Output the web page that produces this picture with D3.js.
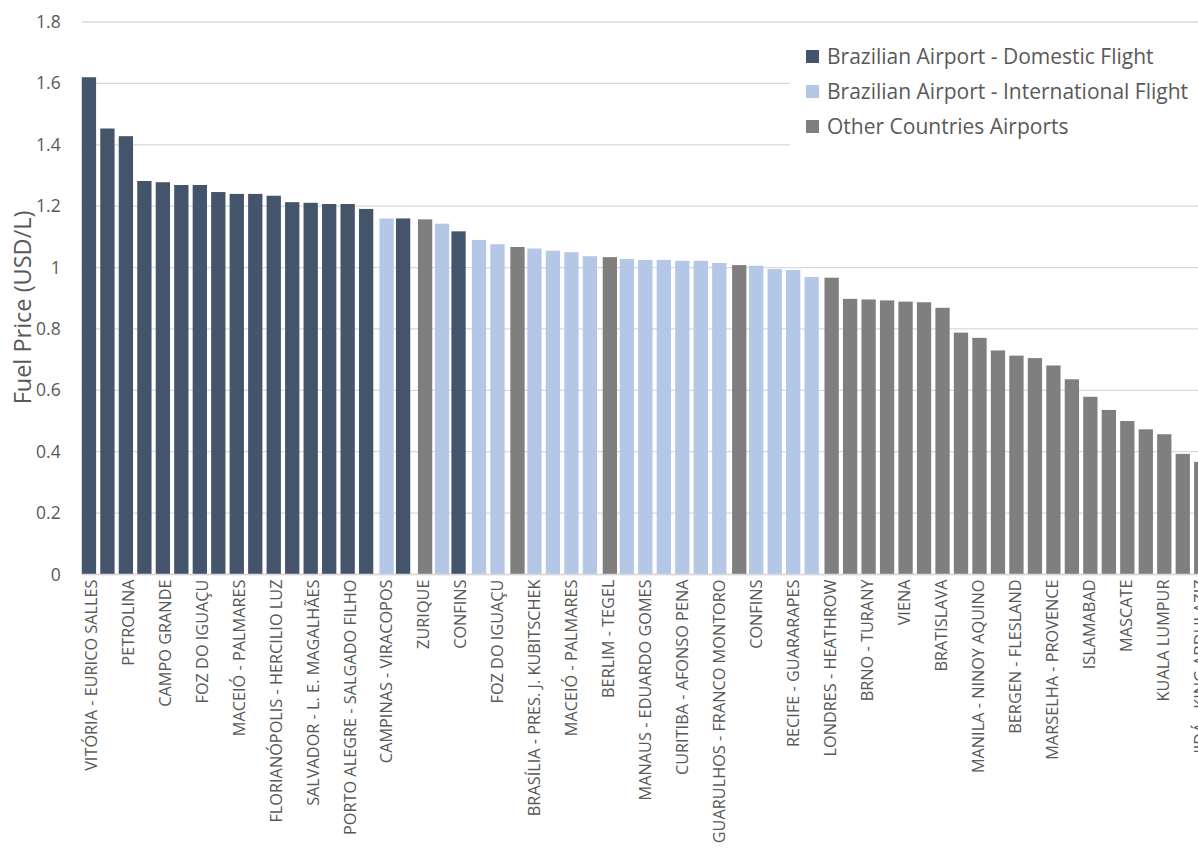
<!DOCTYPE html>
<html>
<head>
<meta charset="utf-8">
<script src="https://cdn.jsdelivr.net/npm/d3@7"></script>
<style>
    html, body { margin: 0; padding: 0; background: #fff; }
    text { font-family: "Open Sans", sans-serif; fill: #595959; }
</style>
</head>
<body>
<svg id="chart"></svg>
<script>
// only every other airport is labelled on the axis; the rest are left blank
const airports = [
    "VITÓRIA - EURICO SALLES", "", "PETROLINA", "", "CAMPO GRANDE", "", "FOZ DO IGUAÇU", "",
    "MACEIÓ - PALMARES", "", "FLORIANÓPOLIS - HERCILIO LUZ", "", "SALVADOR - L. E. MAGALHÃES", "",
    "PORTO ALEGRE - SALGADO FILHO", "", "CAMPINAS - VIRACOPOS", "", "ZURIQUE", "", "CONFINS", "",
    "FOZ DO IGUAÇU", "", "BRASÍLIA - PRES. J. KUBITSCHEK", "", "MACEIÓ - PALMARES", "",
    "BERLIM - TEGEL", "", "MANAUS - EDUARDO GOMES", "", "CURITIBA - AFONSO PENA", "",
    "GUARULHOS - FRANCO MONTORO", "", "CONFINS", "", "RECIFE - GUARARAPES", "",
    "LONDRES - HEATHROW", "", "BRNO - TURANY", "", "VIENA", "", "BRATISLAVA", "",
    "MANILA - NINOY AQUINO", "", "BERGEN - FLESLAND", "", "MARSELHA - PROVENCE", "",
    "ISLAMABAD", "", "MASCATE", "", "KUALA LUMPUR", "", "JIDÁ - KING ABDULAZIZ"
];

const prices = [
    1.620, 1.453, 1.428, 1.282, 1.278, 1.269, 1.269, 1.246, 1.240, 1.240,
    1.234, 1.213, 1.211, 1.207, 1.207, 1.191, 1.160, 1.160, 1.157, 1.143,
    1.118, 1.090, 1.076, 1.067, 1.062, 1.055, 1.050, 1.037, 1.034, 1.028,
    1.025, 1.025, 1.022, 1.022, 1.015, 1.008, 1.006, 0.995, 0.992, 0.969,
    0.967, 0.898, 0.896, 0.893, 0.889, 0.887, 0.869, 0.788, 0.771, 0.730,
    0.713, 0.705, 0.681, 0.636, 0.579, 0.536, 0.500, 0.473, 0.457, 0.393,
    0.367
];

// 0 = domestic, 1 = international, 2 = other countries
const groups = [
    0, 0, 0, 0, 0, 0, 0, 0, 0, 0, 0, 0, 0, 0, 0, 0, 1, 0, 2, 1,
    0, 1, 1, 2, 1, 1, 1, 1, 2, 1, 1, 1, 1, 1, 1, 2, 1, 1, 1, 1,
    2, 2, 2, 2, 2, 2, 2, 2, 2, 2, 2, 2, 2, 2, 2, 2, 2, 2, 2, 2,
    2
];

const seriesNames = [
    "Brazilian Airport - Domestic Flight",
    "Brazilian Airport - International Flight",
    "Other Countries Airports"
];
const seriesColours = ["#44546A", "#B4C7E7", "#7F7F7F"];

const yTicks = [0, 0.2, 0.4, 0.6, 0.8, 1, 1.2, 1.4, 1.6, 1.8];

const width = 1198,
    height = 855,
    margin = { top: 22, left: 81.7, bottom: 280.5 },
    step = 18.48,
    barWidth = 14.3,
    seriesShift = [-2, 0, 1.5];

const svg = d3.select("#chart")
    .attr("width", width)
    .attr("height", height);

svg.append("rect")
    .attr("width", width)
    .attr("height", height)
    .attr("fill", "#fff");

const x = d3.scaleBand()
    .domain(d3.range(prices.length))
    .range([margin.left, margin.left + step * prices.length])
    .padding(0);

const y = d3.scaleLinear()
    .domain([0, 1.8])
    .range([height - margin.bottom, margin.top]);

// gridlines
svg.append("g")
    .attr("class", "grid")
    .selectAll("line")
    .data(yTicks)
    .enter()
    .append("line")
    .attr("x1", margin.left)
    .attr("x2", width)
    .attr("y1", d => y(d))
    .attr("y2", d => y(d))
    .attr("stroke", "#D9D9D9")
    .attr("stroke-width", 1.3);

// y tick labels
svg.append("g")
    .attr("class", "axis axis--y")
    .attr("transform", "translate(" + (margin.left - 21) + ",0)")
    .call(d3.axisLeft(y).tickValues(yTicks).tickSize(0).tickPadding(0)
        .tickFormat(d => d === 0 ? "0" : d3.format("~g")(d)))
    .call(g => g.select(".domain").remove())
    .selectAll("text")
    .style("font-size", "17.5px")
    .attr("fill", "#595959");

svg.append("text")
    .attr("transform", "translate(31," + y(0.87) + ") rotate(-90)")
    .style("text-anchor", "middle")
    .style("font-size", "23.5px")
    .text("Fuel Price (USD/L)");

// bars
svg.append("g")
    .attr("class", "bars")
    .selectAll("rect")
    .data(prices)
    .enter()
    .append("rect")
    .attr("x", (d, i) => x(i) + x.bandwidth() / 2 - barWidth / 2 + seriesShift[groups[i]])
    .attr("y", d => y(d))
    .attr("width", barWidth)
    .attr("height", d => y(0) - y(d))
    .attr("fill", (d, i) => seriesColours[groups[i]]);

// x axis with every other airport label
const xAxis = svg.append("g")
    .attr("class", "axis axis--x")
    .attr("transform", "translate(0," + y(0) + ")")
    .call(d3.axisBottom(x)
        .tickValues(d3.range(0, prices.length, 2))
        .tickSize(0)
        .tickFormat(i => airports[i]));

xAxis.select(".domain")
    .attr("d", "M" + margin.left + ",0H" + width)
    .attr("stroke", "#D9D9D9")
    .attr("stroke-width", 1.3);

xAxis.selectAll("text")
    .attr("fill", "#595959")
    .style("font-size", "16.3px")
    .style("text-anchor", "end")
    .attr("transform", "rotate(-90)")
    .attr("x", -5)
    .attr("y", 0)
    .attr("dy", "0.36em");

// legend
const legend = svg.append("g")
    .attr("class", "legend")
    .attr("transform", "translate(790,30)");

legend.append("rect")
    .attr("width", 420)
    .attr("height", 122)
    .attr("fill", "#fff");

const items = legend.selectAll("g.item")
    .data(seriesNames)
    .enter()
    .append("g")
    .attr("class", "item")
    .attr("transform", (d, i) => "translate(16," + (20 + i * 35) + ")");

items.append("rect")
    .attr("width", 13)
    .attr("height", 13)
    .attr("fill", (d, i) => seriesColours[i]);

items.append("text")
    .attr("x", 21)
    .attr("y", 6.5)
    .attr("dy", "0.35em")
    .style("font-size", "21px")
    .text(d => d);
</script>
</body>
</html>
